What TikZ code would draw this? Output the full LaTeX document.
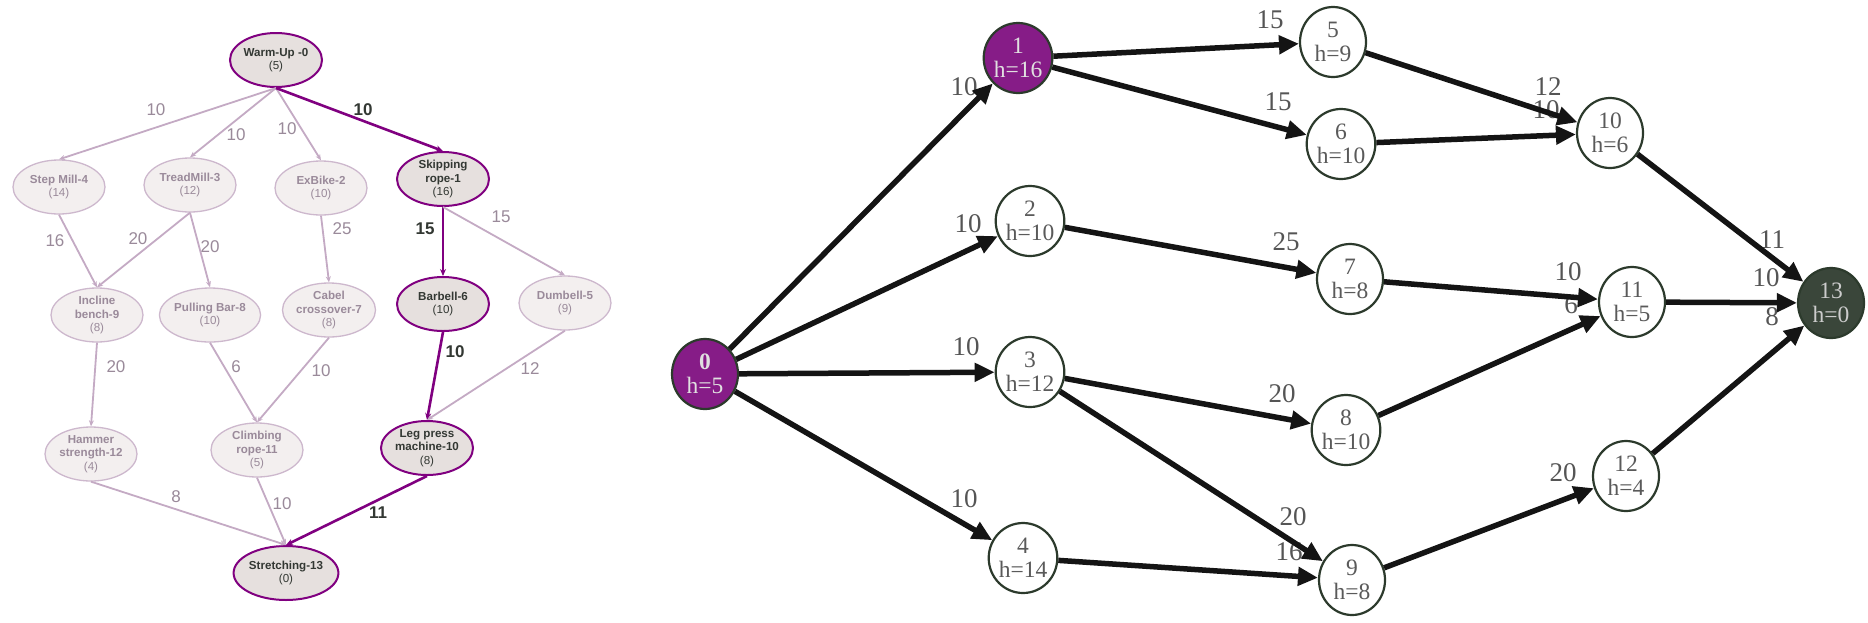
\documentclass[tikz,border=0pt]{standalone}
\usepackage{fontspec}
\setmainfont{Liberation Serif}
\newfontfamily\lsans{Liberation Sans}
\usetikzlibrary{shapes.geometric,arrows.meta}
\definecolor{fadeE}{HTML}{C4AAC4}
\definecolor{hiE}{HTML}{800080}
\definecolor{fadeFill}{HTML}{F3EFEF}
\definecolor{hiFill}{HTML}{E6E0DE}
\definecolor{fadeT}{HTML}{9A8A9A}
\definecolor{hiT}{HTML}{333833}
\definecolor{fadeB}{HTML}{CDB8CD}
\definecolor{rB}{HTML}{2C3A2C}
\definecolor{rT}{HTML}{5A5A5A}
\definecolor{rPur}{HTML}{861C87}
\definecolor{rDark}{HTML}{3A463A}
\definecolor{rLab}{HTML}{555555}
\begin{document}
\begin{tikzpicture}[x=1pt,y=-1pt,
 lnode/.style={ellipse, minimum width=92pt, minimum height=54pt, inner sep=0pt, align=center, font=\lsans\fontsize{11.6}{13.5}\selectfont},
 lfade/.style={lnode, draw=fadeB, line width=1.3pt, fill=fadeFill, text=fadeT},
 lhi/.style={lnode, draw=hiE, line width=2pt, fill=hiFill, text=hiT},
 lfe/.style={draw=fadeE, line width=1.8pt, -{Stealth[length=6pt,width=5pt]}},
 lhe/.style={draw=hiE, line width=2.6pt, -{Stealth[length=7pt,width=6pt]}},
 lfl/.style={font=\lsans\fontsize{17}{17}\selectfont, text=fadeT},
 lhl/.style={font=\lsans\bfseries\fontsize{17}{17}\selectfont, text=hiT},
 rnode/.style={ellipse, minimum width=66pt, minimum height=70pt, inner sep=0pt, align=center, line width=2.2pt, draw=rB, font=\fontsize{23.5}{24}\selectfont},
 rwhite/.style={rnode, fill=white, text=rT},
 rpur/.style={rnode, fill=rPur, text=white!88!black},
 rdark/.style={rnode, fill=rDark, text=white!80!black},
 re/.style={draw=black!92, line width=5.5pt, -{Triangle[length=20pt,width=18pt]}},
 rl/.style={font=\fontsize{27}{27}\selectfont, text=rLab, inner sep=0pt}
]
\useasboundingbox (0,0) rectangle (1868,622);
\fill[white] (0,0) rectangle (1868,622);

% ---------------- left diagram ----------------
\node[lhi]   (L0)  at (276,60)  {\textbf{Warm-Up -0}\\(5)};
\node[lfade] (L4)  at (59,187)  {\textbf{Step Mill-4}\\(14)};
\node[lfade] (L3)  at (190,185) {\textbf{TreadMill-3}\\(12)};
\node[lfade] (L2)  at (321,188) {\textbf{ExBike-2}\\(10)};
\node[lhi]   (L1)  at (443,179) {\textbf{Skipping}\\\textbf{rope-1}\\(16)};
\node[lfade] (L9)  at (97,315)  {\textbf{Incline}\\\textbf{bench-9}\\(8)};
\node[lfade] (L8)  at (210,315) {\textbf{Pulling Bar-8}\\(10)};
\node[lfade] (L7)  at (329,310) {\textbf{Cabel}\\\textbf{crossover-7}\\(8)};
\node[lhi]   (L6)  at (443,304) {\textbf{Barbell-6}\\(10)};
\node[lfade] (L5)  at (565,303) {\textbf{Dumbell-5}\\(9)};
\node[lfade] (L12) at (91,454)  {\textbf{Hammer}\\\textbf{strength-12}\\(4)};
\node[lfade] (L11) at (257,450) {\textbf{Climbing}\\\textbf{rope-11}\\(5)};
\node[lhi]   (L10) at (427,448) {\textbf{Leg press}\\\textbf{machine-10}\\(8)};
\node[lhi]   (L13) at (286,573) {\textbf{Stretching-13}\\(0)};

\draw[lfe] (L0.south) -- (L4.north);
\draw[lfe] (L0.south) -- (L3.north);
\draw[lfe] (L0.south) -- (L2.north);
\draw[lhe] (L0.south) -- (L1.north);
\draw[lfe] (L4.south) -- (L9.north);
\draw[lfe] (L3.south) -- (L9.north);
\draw[lfe] (L3.south) -- (L8.north);
\draw[lfe] (L2.south) -- (L7.north);
\draw[lhe] (L1.south) -- (L6.north);
\draw[lfe] (L1.south) -- (L5.north);
\draw[lfe] (L9.south) -- (L12.north);
\draw[lfe] (L8.south) -- (L11.north);
\draw[lfe] (L7.south) -- (L11.north);
\draw[lhe] (L6.south) -- (L10.north);
\draw[lfe] (L5.south) -- (L10.north);
\draw[lfe] (L12.south) -- (L13.north);
\draw[lfe] (L11.south) -- (L13.north);
\draw[lhe] (L10.south) -- (L13.north);

\node[lfl] (a1) at (156,110) {10};
\node[lfl] (a2) at (236,135) {10};
\node[lfl] (a3) at (287,129) {10};
\node[lhl] (a4) at (363,110) {10};
\node[lfl] (a5) at (55,241) {16};
\node[lfl] (a6) at (138,239) {20};
\node[lfl] (a7) at (210,247) {20};
\node[lfl] (a8) at (342,229) {25};
\node[lhl] (a9) at (425,229) {15};
\node[lfl] (a10) at (501,217) {15};
\node[lfl] (a11) at (116,367) {20};
\node[lfl] (a12) at (236,367) {6};
\node[lfl] (a13) at (321,371) {10};
\node[lhl] (a14) at (455,352) {10};
\node[lfl] (a15) at (530,369) {12};
\node[lfl] (a16) at (176,497) {8};
\node[lfl] (a17) at (282,504) {10};
\node[lhl] (a18) at (378,513) {11};

% ---------------- right diagram ----------------
\node[rl] (b1)  at (964,87)   {10};
\node[rl] (b2)  at (968,224)  {10};
\node[rl] (b3)  at (966,347)  {10};
\node[rl] (b4)  at (964,499)  {10};
\node[rl] (b5)  at (1270,20)  {15};
\node[rl] (b6)  at (1278,102) {15};
\node[rl] (b7)  at (1286,242) {25};
\node[rl] (b8)  at (1282,394) {20};
\node[rl] (b9)  at (1293,517) {20};
\node[rl] (b10) at (1289,552) {16};
\node[rl] (b11) at (1548,87)  {12};
\node[rl] (b12) at (1546,110) {10};
\node[rl] (b13) at (1568,272) {10};
\node[rl] (b14) at (1571,305) {6};
\node[rl] (b15) at (1563,473) {20};
\node[rl] (b16) at (1772,240) {11};
\node[rl] (b17) at (1766,278) {10};
\node[rl] (b18) at (1772,317) {8};

\node[rpur]   (n0)  at (705,374)  {\textbf{0}\\h=5};
\node[rpur]   (n1)  at (1018,58)  {1\\h=16};
\node[rwhite] (n2)  at (1030,221) {2\\h=10};
\node[rwhite] (n3)  at (1030,372) {3\\h=12};
\node[rwhite] (n4)  at (1023,558) {4\\h=14};
\node[rwhite] (n5)  at (1333,42)  {5\\h=9};
\node[rwhite] (n6)  at (1341,144) {6\\h=10};
\node[rwhite] (n7)  at (1350,279) {7\\h=8};
\node[rwhite] (n8)  at (1346,430) {8\\h=10};
\node[rwhite] (n9)  at (1352,580) {9\\h=8};
\node[rwhite] (n10) at (1610,133) {10\\h=6};
\node[rwhite] (n11) at (1632,302) {11\\h=5};
\node[rwhite] (n12) at (1626,476) {12\\h=4};
\node[rdark]  (n13) at (1831,303) {13\\h=0};

\draw[re] (n0) -- (n1);
\draw[re] (n0) -- (n2);
\draw[re] (n0) -- (n3);
\draw[re] (n0) -- (n4);
\draw[re] (n1) -- (n5);
\draw[re] (n1) -- (n6);
\draw[re] (n2) -- (n7);
\draw[re] (n3) -- (n8);
\draw[re] (n3) -- (n9);
\draw[re] (n4) -- (n9);
\draw[re] (n5) -- (n10);
\draw[re] (n6) -- (n10);
\draw[re] (n7) -- (n11);
\draw[re] (n8) -- (n11);
\draw[re] (n9) -- (n12);
\draw[re] (n10) -- (n13);
\draw[re] (n11) -- (n13);
\draw[re] (n12) -- (n13);
\end{tikzpicture}
\end{document}
